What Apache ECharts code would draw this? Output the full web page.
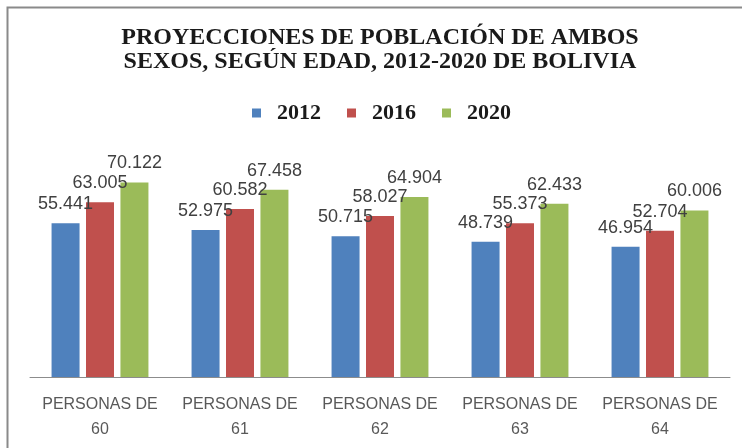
<!DOCTYPE html>
<html>
<head>
<meta charset="utf-8">
<script src="https://cdn.jsdelivr.net/npm/echarts@6/dist/echarts.min.js"></script>
<style>
html,body{margin:0;padding:0;background:#fff;}
#c{width:742px;height:448px;}
</style>
</head>
<body>
<div id="c"></div>
<script>
const categories = ['PERSONAS DE\n60','PERSONAS DE\n61','PERSONAS DE\n62','PERSONAS DE\n63','PERSONAS DE\n64'];
const seriesNames = ['2012','2016','2020'];
const values2012 = [55441, 52975, 50715, 48739, 46954];
const values2016 = [63005, 60582, 58027, 55373, 52704];
const values2020 = [70122, 67458, 64904, 62433, 60006];
const colors = ['#4F81BD','#C0504D','#9BBB59'];

function fmt(v){ return String(v).replace(/\B(?=(\d{3})+(?!\d))/g, '.'); }

const chart = echarts.init(document.getElementById('c'));
const allValues = [values2012, values2016, values2020];
chart.setOption({
  animation: false,
  backgroundColor: '#fff',
  graphic: [{
    type: 'rect', silent: true, z: -1,
    shape: { x: 7.5, y: 7.5, width: 780, height: 480 },
    style: { fill: '#fff', stroke: '#8a8a8a', lineWidth: 2 }
  }],
  title: {
    text: 'PROYECCIONES DE POBLACIÓN DE AMBOS\nSEXOS, SEGÚN EDAD, 2012-2020 DE BOLIVIA',
    left: 380, textAlign: 'center', top: 26, padding: 0,
    textStyle: { fontFamily: 'Liberation Serif', fontWeight: 'bold', fontSize: 24, lineHeight: 24, color: '#1a1a1a' }
  },
  legend: {
    top: 102, left: 252, padding: 0,
    itemWidth: 9, itemHeight: 9, itemGap: 26,
    icon: 'rect',
    textStyle: { fontFamily: 'Liberation Serif', fontWeight: 'bold', fontSize: 22, color: '#1a1a1a', padding: [0,0,0,11] },
    data: seriesNames
  },
  grid: { left: 30, right: 12, top: 155, bottom: 71 },
  xAxis: {
    type: 'category', data: categories,
    axisLine: { lineStyle: { color: '#8c8c8c', width: 1 } },
    axisTick: { show: false },
    axisLabel: { interval: 0, fontFamily: 'Liberation Sans', fontSize: 16, lineHeight: 25, color: '#595959', margin: 15 }
  },
  yAxis: { type: 'value', min: 0, max: 80000, show: false, splitLine: { show: false } },
  series: seriesNames.map((n, i) => ({
    name: n, type: 'bar', data: allValues[i], barWidth: 28, barGap: '23%',
    itemStyle: { color: colors[i] },
    label: {
      show: true, position: 'top', distance: 10,
      fontFamily: 'Liberation Sans', fontSize: 18, color: '#404040',
      formatter: p => fmt(p.value)
    }
  }))
});
</script>
</body>
</html>
